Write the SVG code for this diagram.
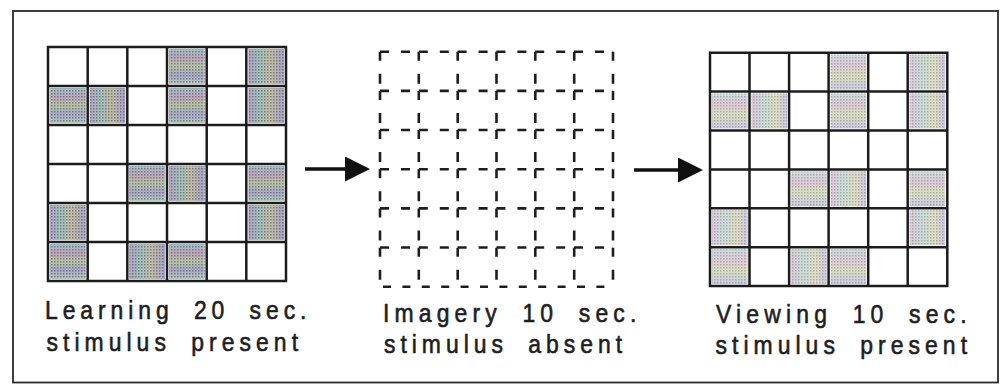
<svg xmlns="http://www.w3.org/2000/svg" xmlns:xlink="http://www.w3.org/1999/xlink" width="1002" height="384" viewBox="0 0 1002 384">
<style>
.frame{fill:none;stroke:#2b2b2b;stroke-width:1.8}
.grid{fill:none;stroke:#1c1c1c;stroke-width:2.5;stroke-linecap:square}
.dh{fill:none;stroke:#1e1e1e;stroke-width:2.6;stroke-dasharray:9 12 9 8.8}
.dv{fill:none;stroke:#1e1e1e;stroke-width:2.6;stroke-dasharray:9 13 10 7.2}
.db{fill:none;stroke:#1e1e1e;stroke-width:2.6;stroke-dasharray:8 11.4;stroke-dashoffset:-3}
.lbl{font-family:"Liberation Sans",Arial,sans-serif;font-size:25.5px;letter-spacing:3.5px;word-spacing:10px;fill:#1e1e1e;stroke:#1e1e1e;stroke-width:0.6px}
.arrow{fill:none;stroke:#111;stroke-width:3.6}
</style>
<defs>
<marker id="head" markerUnits="userSpaceOnUse" markerWidth="26" markerHeight="26" refX="1" refY="12.5" orient="auto">
<path d="M0,0 L25,12.5 L0,25 Z" fill="#111"/>
</marker>
<pattern id="dots" width="3" height="3" patternUnits="userSpaceOnUse">
<rect width="1.5" height="1.5" fill="#3c3a55"/>
</pattern>
<linearGradient id="gL1" x1="0" y1="0" x2="0" y2="1">
<stop offset="0" stop-color="#a3c2c2"/><stop offset=".25" stop-color="#bfa9be"/><stop offset=".5" stop-color="#b9c6a3"/><stop offset=".75" stop-color="#a9abc9"/><stop offset="1" stop-color="#b7cab9"/>
</linearGradient>
<linearGradient id="gL2" x1="0" y1="0" x2="1" y2="0">
<stop offset="0" stop-color="#b5a6c2"/><stop offset=".3" stop-color="#a2c2bc"/><stop offset=".6" stop-color="#c5bea5"/><stop offset="1" stop-color="#aaa6c8"/>
</linearGradient>
<linearGradient id="gR1" x1="0" y1="0" x2="0" y2="1">
<stop offset="0" stop-color="#cde0dc"/><stop offset=".3" stop-color="#e0ccda"/><stop offset=".6" stop-color="#dbe1c0"/><stop offset="1" stop-color="#cccde3"/>
</linearGradient>
<linearGradient id="gR2" x1="0" y1="0" x2="1" y2="0">
<stop offset="0" stop-color="#dfcbdb"/><stop offset=".35" stop-color="#cbdfd8"/><stop offset=".7" stop-color="#e2dec3"/><stop offset="1" stop-color="#d0cae3"/>
</linearGradient>
<g id="cellsLa">
<rect x="169" y="49" width="35.7" height="35"/>
<rect x="50" y="88" width="35.7" height="35"/>
<rect x="169" y="88" width="35.7" height="35"/>
<rect x="129.3" y="166" width="35.7" height="35"/>
<rect x="248.3" y="166" width="35.7" height="35"/>
<rect x="50" y="244" width="35.7" height="35"/>
<rect x="169" y="244" width="35.7" height="35"/>
</g>
<g id="cellsLb">
<rect x="248.3" y="49" width="35.7" height="35"/>
<rect x="89.7" y="88" width="35.7" height="35"/>
<rect x="248.3" y="88" width="35.7" height="35"/>
<rect x="169" y="166" width="35.7" height="35"/>
<rect x="50" y="205" width="35.7" height="35"/>
<rect x="248.3" y="205" width="35.7" height="35"/>
<rect x="129.3" y="244" width="35.7" height="35"/>
</g>
<g id="cellsRa">
<rect x="830.6" y="54.7" width="35.5" height="34.9"/>
<rect x="712" y="93.6" width="35.5" height="34.9"/>
<rect x="830.6" y="93.6" width="35.5" height="34.9"/>
<rect x="791.1" y="171.4" width="35.5" height="34.9"/>
<rect x="909.7" y="171.4" width="35.5" height="34.9"/>
<rect x="712" y="249.2" width="35.5" height="34.9"/>
<rect x="830.6" y="249.2" width="35.5" height="34.9"/>
</g>
<g id="cellsRb">
<rect x="909.7" y="54.7" width="35.5" height="34.9"/>
<rect x="751.5" y="93.6" width="35.5" height="34.9"/>
<rect x="909.7" y="93.6" width="35.5" height="34.9"/>
<rect x="830.6" y="171.4" width="35.5" height="34.9"/>
<rect x="712" y="210.3" width="35.5" height="34.9"/>
<rect x="909.7" y="210.3" width="35.5" height="34.9"/>
<rect x="791.1" y="249.2" width="35.5" height="34.9"/>
</g>
</defs>
<rect width="1002" height="384" fill="#ffffff"/>
<rect class="frame" x="13" y="11" width="985" height="371.5"/>

<g id="panel-learning">
<use xlink:href="#cellsLa" fill="url(#gL1)"/>
<use xlink:href="#cellsLb" fill="url(#gL2)"/>
<use xlink:href="#cellsLa" fill="url(#dots)" opacity="0.5"/>
<use xlink:href="#cellsLb" fill="url(#dots)" opacity="0.5"/>
<path class="grid" d="M48,47V281M87.7,47V281M127.3,47V281M167,47V281M206.7,47V281M246.3,47V281M286,47V281M48,47H286M48,86H286M48,125H286M48,164H286M48,203H286M48,242H286M48,281H286"/>
<text class="lbl" transform="translate(45,318.5) scale(0.9,1)" textLength="294">Learning 20 sec.</text>
<text class="lbl" transform="translate(46.5,351) scale(0.9,1)" textLength="283">stimulus present</text>
</g>

<g id="panel-imagery">
<path class="dh" d="M380,51.7H613M380,90.9H613M380,130H613M380,169.2H613M380,208.4H613M380,247.5H613"/>
<path class="db" d="M380,286.7H613"/>
<path class="dv" d="M380,51.7V286.7M418.8,51.7V286.7M457.7,51.7V286.7M496.5,51.7V286.7M535.3,51.7V286.7M574.2,51.7V286.7M613,51.7V286.7"/>
<text class="lbl" transform="translate(383,322) scale(0.9,1)" textLength="285">Imagery 10 sec.</text>
<text class="lbl" transform="translate(384,353) scale(0.9,1)" textLength="268">stimulus absent</text>
</g>

<g id="panel-viewing">
<use xlink:href="#cellsRa" fill="url(#gR1)"/>
<use xlink:href="#cellsRb" fill="url(#gR2)"/>
<use xlink:href="#cellsRa" fill="url(#dots)" opacity="0.3"/>
<use xlink:href="#cellsRb" fill="url(#dots)" opacity="0.3"/>
<path class="grid" d="M710,52.7V286M749.5,52.7V286M789.1,52.7V286M828.6,52.7V286M868.2,52.7V286M907.7,52.7V286M947.3,52.7V286M710,52.7H947.3M710,91.6H947.3M710,130.5H947.3M710,169.4H947.3M710,208.3H947.3M710,247.2H947.3M710,286H947.3"/>
<text class="lbl" transform="translate(716,323) scale(0.9,1)" textLength="282">Viewing 10 sec.</text>
<text class="lbl" transform="translate(715.5,353.5) scale(0.9,1)" textLength="283">stimulus present</text>
</g>

<g id="connectors">
<line class="arrow" x1="305" y1="169" x2="346" y2="169" marker-end="url(#head)"/>
<line class="arrow" x1="634" y1="170" x2="679" y2="170" marker-end="url(#head)"/>
</g>
</svg>
